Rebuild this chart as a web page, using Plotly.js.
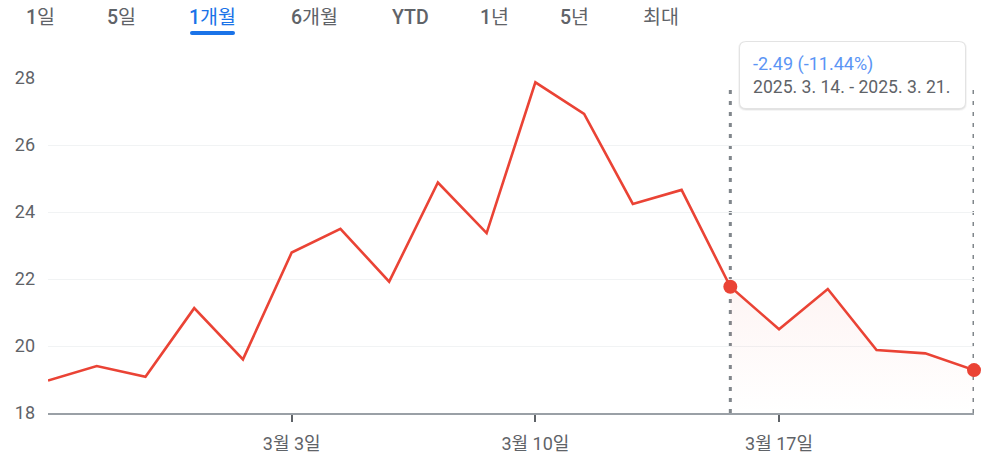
<!DOCTYPE html>
<html>
<head>
<meta charset="utf-8">
<script src="https://cdn.plot.ly/plotly-3.0.1.min.js"></script>
<style>
  html, body { margin: 0; padding: 0; background: #fff; }
  #chart { width: 1001px; height: 454px; }
</style>
</head>
<body>
<div id="chart"></div>
<script>
// ---- data ----
const dates = ['2025-02-24','2025-02-25','2025-02-26','2025-02-27','2025-02-28',
               '2025-03-03','2025-03-04','2025-03-05','2025-03-06','2025-03-07',
               '2025-03-10','2025-03-11','2025-03-12','2025-03-13','2025-03-14',
               '2025-03-17','2025-03-18','2025-03-19','2025-03-20','2025-03-21'];
const prices = [18.97, 19.40, 19.08, 21.13, 19.60,
                22.79, 23.50, 21.92, 24.88, 23.37,
                27.87, 26.93, 24.24, 24.66, 21.77,
                20.50, 21.70, 19.88, 19.78, 19.28];
const xTickIdx = [5, 10, 15];
const xTickLabels = ['3월 3일', '3월 10일', '3월 17일'];
const yTicks = [18, 20, 22, 24, 26, 28];
const tabs = ['1일', '5일', '1개월', '6개월', 'YTD', '1년', '5년', '최대'];
const activeTab = '1개월';
const selStart = 14, selEnd = 19;
const changeText = '-2.49 (-11.44%)';
const rangeText = '2025. 3. 14. - 2025. 3. 21.';

// ---- layout helpers ----
const W = 1001, H = 454;
const M = {l: 48, r: 27, t: 78, b: 41};
const PW = W - M.l - M.r, PH = H - M.t - M.b;
const px = x => (x - M.l) / PW;           // absolute pixel x -> paper
const py = y => (H - M.b - y) / PH;       // absolute pixel y -> paper
const rx = x => x - M.l;                  // pixel offset from paper x=0
const ry = y => M.t - y;                  // pixel offset (up) from paper y=1

const idx = prices.map((_, i) => i);
const RED = '#ea4335';
const FONT = 'Roboto, "Noto Sans CJK KR", sans-serif';

function roundRect(x0, y0, x1, y1, r) {
  const L = rx(x0), R = rx(x1), T = ry(y0), B = ry(y1);
  return `M${L + r},${T} L${R - r},${T} Q${R},${T} ${R},${T - r} ` +
         `L${R},${B + r} Q${R},${B} ${R - r},${B} L${L + r},${B} ` +
         `Q${L},${B} ${L},${B + r} L${L},${T - r} Q${L},${T} ${L + r},${T} Z`;
}
function pixelPath(path, fill, line) {
  return {type: 'path', xref: 'paper', yref: 'paper', xsizemode: 'pixel', ysizemode: 'pixel',
          xanchor: 0, yanchor: 1, path: path, fillcolor: fill,
          line: line || {width: 0}, layer: 'above'};
}
// Latin letters/digits medium weight, Hangul regular
function tabLabel(t) {
  return t.replace(/([0-9A-Za-z]+)/g, '<span style="font-weight:500">$1</span>');
}

const selX = idx.slice(selStart, selEnd + 1);
const selY = prices.slice(selStart, selEnd + 1);

const traces = [
  {x: selX, y: selY, type: 'scatter', mode: 'lines', fill: 'tozeroy',
   fillgradient: {type: 'vertical', start: 18, stop: 22,
     colorscale: [[0, 'rgba(234,67,53,0.0)'], [1, 'rgba(234,67,53,0.06)']]},
   line: {width: 0}, hoverinfo: 'skip', showlegend: false},
  {x: idx, y: prices, type: 'scatter', mode: 'lines',
   line: {color: RED, width: 2.6}, hoverinfo: 'skip', showlegend: false},
  {x: [selStart, selEnd], y: [prices[selStart], prices[selEnd]], type: 'scatter', mode: 'markers',
   marker: {color: RED, size: 14}, cliponaxis: false, hoverinfo: 'skip', showlegend: false}
];

// tabs
const tabCenters = [40, 121, 212, 314, 410, 494, 574, 661];
const annotations = tabs.map((t, i) => ({
  text: tabLabel(t), xref: 'paper', yref: 'paper', x: px(tabCenters[i]), y: py(18),
  xanchor: 'center', yanchor: 'middle', showarrow: false,
  font: {family: FONT, size: 19.5, weight: 400, color: t === activeTab ? '#1a73e8' : '#5f6368'}
}));
// tooltip texts
annotations.push({text: changeText, xref: 'paper', yref: 'paper', x: px(751), y: py(64),
  xanchor: 'left', yanchor: 'middle', showarrow: false,
  font: {family: FONT, size: 18, color: '#5b95f5'}});
annotations.push({text: rangeText, xref: 'paper', yref: 'paper', x: px(751), y: py(87),
  xanchor: 'left', yanchor: 'middle', showarrow: false,
  font: {family: FONT, size: 17.6, color: '#5f6368'}});

const dotLine = {color: '#80868b', width: 3, dash: '4px,7px'};
const shapes = [
  // dotted selection lines
  {type: 'line', xref: 'x', yref: 'paper', x0: selStart, x1: selStart, y0: 0, y1: py(85),
   line: dotLine, layer: 'below'},
  {type: 'line', xref: 'x', yref: 'paper', x0: selEnd, x1: selEnd, y0: 0, y1: py(85),
   line: dotLine, layer: 'below'},
  // tab underline
  pixelPath(roundRect(190, 31, 235, 35, 2), '#1a73e8'),
  // tooltip shadow + box
  pixelPath(roundRect(738, 41, 967, 111, 8), 'rgba(0,0,0,0.04)'),
  pixelPath(roundRect(739, 41, 966, 110, 7), 'rgba(0,0,0,0.07)'),
  pixelPath(roundRect(740, 42, 965, 108, 6), '#ffffff')
];

const layout = {
  width: W, height: H,
  margin: M,
  paper_bgcolor: '#fff', plot_bgcolor: '#fff',
  showlegend: false,
  font: {family: FONT, color: '#5f6368'},
  xaxis: {range: [0, idx.length - 1], tickvals: xTickIdx, ticktext: xTickLabels,
          ticks: 'outside', ticklen: 7, tickwidth: 2, tickcolor: '#5f6368',
          ticklabelstandoff: 6,
          showgrid: false, zeroline: false, showline: true, linecolor: '#9aa0a6', linewidth: 2,
          tickfont: {family: FONT, size: 18, color: '#5f6368'}, fixedrange: true},
  yaxis: {range: [18, 28], tickvals: yTicks, showgrid: true, gridcolor: '#f1f3f4', gridwidth: 1,
          zeroline: false, showline: false, ticks: '', ticklabelstandoff: 12,
          tickfont: {family: FONT, size: 18, color: '#5f6368'}, fixedrange: true},
  annotations: annotations,
  shapes: shapes
};

Plotly.newPlot('chart', traces, layout, {displayModeBar: false, staticPlot: true});
</script>
</body>
</html>
